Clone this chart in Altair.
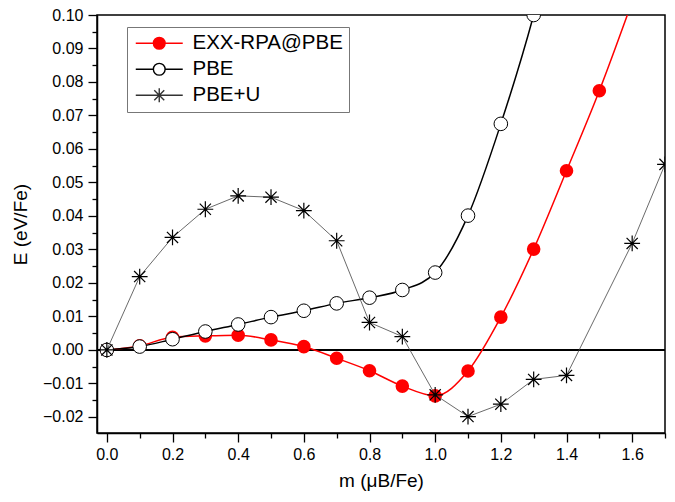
import altair as alt
import pandas as pd

# ---- data ----
m_rpa = [0.0, 0.1, 0.2, 0.3, 0.4, 0.5, 0.6, 0.7, 0.8, 0.9, 1.0, 1.1, 1.2, 1.3, 1.4, 1.5, 1.6]
e_rpa = [0.0, 0.0012, 0.0038, 0.0042, 0.0044, 0.0030, 0.0010, -0.0025, -0.0062, -0.0108,
         -0.0137, -0.0063, 0.0098, 0.0301, 0.0535, 0.0774, 0.104]

m_pbe = [0.0, 0.1, 0.2, 0.3, 0.4, 0.5, 0.6, 0.7, 0.8, 0.9, 1.0, 1.1, 1.2, 1.3, 1.4]
e_pbe = [0.0, 0.0010, 0.0032, 0.0055, 0.0076, 0.0098, 0.0117, 0.0139, 0.0156, 0.0179,
         0.0231, 0.0401, 0.0675, 0.1000, 0.140]

m_pbeu = [0.0, 0.1, 0.2, 0.3, 0.4, 0.5, 0.6, 0.7, 0.8, 0.9, 1.0, 1.1, 1.2, 1.3, 1.4, 1.6, 1.7]
e_pbeu = [0.0, 0.0219, 0.0336, 0.0420, 0.0460, 0.0456, 0.0416, 0.0326, 0.0082, 0.0040,
          -0.0134, -0.0199, -0.0162, -0.0088, -0.0076, 0.0318, 0.0554]

series_names = ["EXX-RPA@PBE", "PBE", "PBE+U"]
x_ticks = [round(i * 0.1, 1) for i in range(0, 18)]
y_ticks = [round(-0.02 + i * 0.005, 3) for i in range(0, 25)]

FONT = "Liberation Sans"
X_DOMAIN = [-0.03, 1.70]
Y_DOMAIN = [-0.0248, 0.10]

df_rpa = pd.DataFrame({"m": m_rpa, "E": e_rpa, "series": series_names[0]})
df_pbe = pd.DataFrame({"m": m_pbe, "E": e_pbe, "series": series_names[1]})
df_pbeu = pd.DataFrame({"m": m_pbeu, "E": e_pbeu, "series": series_names[2]})

xscale = alt.Scale(domain=X_DOMAIN, nice=False, zero=False)
yscale = alt.Scale(domain=Y_DOMAIN, nice=False, zero=False)

x_axis = alt.Axis(
    title="m (μB/Fe)",
    values=x_ticks,
    labelExpr="round(datum.value*10) % 2 == 0 ? format(datum.value, '.1f') : ''",
    tickSize={"condition": {"test": "round(datum.value*10) % 2 == 0", "value": 9}, "value": 5},
    tickColor="black", tickWidth=1.3, domainColor="black", domainWidth=1.5,
    grid=False, labelFont=FONT, labelFontSize=16, labelColor="black", labelPadding=4,
    labelOverlap=False,
    titleFont=FONT, titleFontSize=19, titleFontWeight="normal", titleColor="black",
    titlePadding=9, labelFlush=False,
)
y_axis = alt.Axis(
    title="E (eV/Fe)",
    values=y_ticks,
    labelExpr="round(datum.value*1000) % 10 == 0 ? format(datum.value, '.2f') : ''",
    tickSize={"condition": {"test": "round(datum.value*1000) % 10 == 0", "value": 9}, "value": 5},
    tickColor="black", tickWidth=1.3, domainColor="black", domainWidth=1.5,
    grid=False, labelFont=FONT, labelFontSize=16, labelColor="black", labelPadding=5,
    labelOverlap=False,
    titleFont=FONT, titleFontSize=19, titleFontWeight="normal", titleColor="black",
    titlePadding=12, labelFlush=False,
)

X = alt.X("m:Q", scale=xscale, axis=x_axis)
Y = alt.Y("E:Q", scale=yscale, axis=y_axis)

ASTER = "M-1,0L1,0M0,-1L0,1M-0.7071,-0.7071L0.7071,0.7071M-0.7071,0.7071L0.7071,-0.7071"

zero = alt.Chart(df_rpa).mark_rule(color="black", strokeWidth=1.3).encode(
    y=alt.YDatum(0, scale=yscale, axis=y_axis)
)

rpa_line = alt.Chart(df_rpa).mark_line(color="red", strokeWidth=1.5, interpolate="monotone", clip=True).encode(x=X, y=Y)
rpa_pts = alt.Chart(df_rpa).mark_point(shape="circle", filled=True, color="red", size=185, opacity=1, clip=True).encode(x=X, y=Y)

pbe_line = alt.Chart(df_pbe).mark_line(color="black", strokeWidth=1.5, interpolate="monotone", clip=True).encode(x=X, y=Y)
pbe_pts = alt.Chart(df_pbe).mark_point(shape="circle", filled=True, fill="white", stroke="black",
                                       strokeWidth=1, size=185, opacity=1, clip=True).encode(x=X, y=Y)

pbeu_line = alt.Chart(df_pbeu).mark_line(color="#444444", strokeWidth=0.8, clip=True).encode(x=X, y=Y)
pbeu_pts = alt.Chart(df_pbeu).mark_point(shape=ASTER, filled=False, stroke="black", strokeWidth=1.2,
                                         size=250, opacity=1, clip=True).encode(x=X, y=Y)

# legend-only layer (no data rows; entries come from the explicit scale domains)
LEG_RPA = "M-4,0L-1,0M1,0L4,0M1,0A1,1,0,1,1,-1,0A1,1,0,1,1,1,0Z"
LEG_PBE = "M-4,0L-1,0M1,0L4,0M1,0A1,1,0,1,1,-1,0A1,1,0,1,1,1,0Z"
LEG_PBEU = "M-4,0L4,0M0,-1.2L0,1.2M-0.85,-0.85L0.85,0.85M-0.85,0.85L0.85,-0.85"

legend = alt.Legend(
    title=None, orient="none", legendX=30, legendY=12,
    labelFont=FONT, labelFontSize=20.5, labelColor="black",
    symbolSize=138, symbolStrokeWidth=1.4, symbolOffset=16, labelOffset=23,
    padding=6, rowPadding=5, strokeColor="#777777", fillColor="white",
)
df_leg = pd.concat([df_rpa, df_pbe, df_pbeu])
leg_layer = alt.Chart(df_leg).transform_filter("false").mark_point(filled=True, opacity=1).encode(
    x=X, y=Y,
    shape=alt.Shape("series:N", scale=alt.Scale(domain=series_names, range=[LEG_RPA, LEG_PBE, LEG_PBEU]), legend=legend),
    fill=alt.Fill("series:N", scale=alt.Scale(domain=series_names, range=["red", "white", "transparent"]), legend=legend),
    stroke=alt.Stroke("series:N", scale=alt.Scale(domain=series_names, range=["red", "black", "#333333"]), legend=legend),
)

chart = alt.layer(
    zero, rpa_line, rpa_pts, pbe_line, pbe_pts, pbeu_line, pbeu_pts, leg_layer
).properties(
    width=568, height=418,
    autosize=alt.AutoSizeParams(type="none"),
    padding={"left": 89, "top": 7, "right": 2, "bottom": 61},
    background="white",
).configure_view(stroke="black", strokeWidth=1.5)

chart.save("out.html", embed_options={"renderer": "svg", "actions": False})
